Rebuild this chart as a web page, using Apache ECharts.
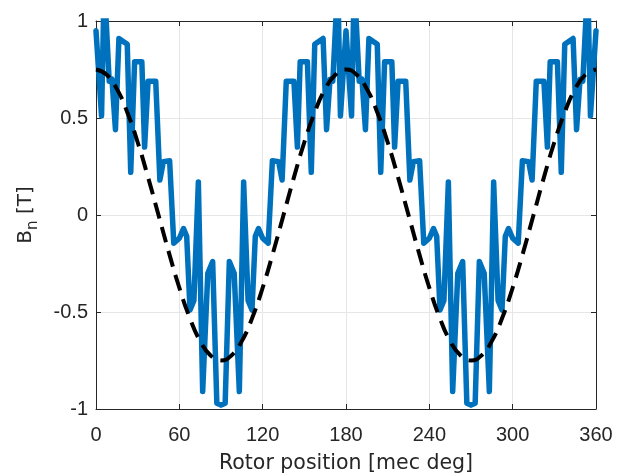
<!DOCTYPE html>
<html>
<head>
<meta charset="utf-8">
<script src="https://cdn.jsdelivr.net/npm/echarts@6/dist/echarts.min.js"></script>
<style>
  html, body { margin: 0; padding: 0; background: #fff; }
  #main { width: 617px; height: 475px; }
</style>
</head>
<body>
<div id="main"></div>
<script>
// rotor position [deg] and normal flux density B_n [T] (blue trace)
var posDeg = [
  0, 4, 5.5, 7, 9.5, 11.5, 14, 16.5, 22.5, 25, 27.8, 33, 35, 37.5, 43, 46, 48.5, 53,
  56, 60, 63, 65.3, 67.7, 70.5, 73.7, 76.8, 80.5, 84, 87, 90,
  93, 96, 99.5, 103.2, 106.3, 109.5, 112.3, 114.7, 117, 120, 124, 127, 131.5, 134,
  137, 142.5, 145, 147, 152.2, 155, 157.5, 163.5, 166, 168.5, 170.5, 173, 174.5, 176, 180,
  184, 185.5, 187, 189.5, 191.5, 194, 196.5, 202.5, 205, 207.8, 213, 215, 217.5, 223,
  226, 228.5, 233, 236, 240, 243, 245.3, 247.7, 250.5, 253.7, 256.8, 260.5, 264, 267, 270,
  273, 276, 279.5, 283.2, 286.3, 289.5, 292.3, 294.7, 297, 300, 304, 307, 311.5, 314,
  317, 322.5, 325, 327, 332.2, 335, 337.5, 343.5, 346, 348.5, 350.5, 353, 354.5, 356, 360
];
var bnT = [
  0.95, 0.51, 1.05, 1.05, 0.69, 0.70, 0.44, 0.91, 0.88, 0.22, 0.79, 0.79, 0.35, 0.69, 0.69, 0.18, 0.275, 0.28,
  -0.145, -0.12, -0.07, -0.11, -0.49, -0.44, 0.17, -0.91, -0.30, -0.24, -0.97, -0.98,
  -0.97, -0.24, -0.30, -0.91, 0.17, -0.44, -0.49, -0.11, -0.07, -0.12, -0.145, 0.28, 0.275, 0.18,
  0.69, 0.69, 0.35, 0.79, 0.79, 0.22, 0.88, 0.91, 0.44, 0.70, 0.69, 1.05, 1.05, 0.51, 0.95,
  0.51, 1.05, 1.05, 0.69, 0.70, 0.44, 0.91, 0.88, 0.22, 0.79, 0.79, 0.35, 0.69, 0.69,
  0.18, 0.275, 0.28, -0.145, -0.12, -0.07, -0.11, -0.49, -0.44, 0.17, -0.91, -0.30, -0.24, -0.97, -0.98,
  -0.97, -0.24, -0.30, -0.91, 0.17, -0.44, -0.49, -0.11, -0.07, -0.12, -0.145, 0.28, 0.275, 0.18,
  0.69, 0.69, 0.35, 0.79, 0.79, 0.22, 0.88, 0.91, 0.44, 0.70, 0.69, 1.05, 1.05, 0.51, 0.95
];

// fundamental (black dashed)
var fundDeg = [
  0, 7.5, 15, 22.5, 30, 37.5, 45, 52.5, 60, 67.5, 75, 82.5, 90,
  97.5, 105, 112.5, 120, 127.5, 135, 142.5, 150, 157.5, 165, 172.5, 180,
  187.5, 195, 202.5, 210, 217.5, 225, 232.5, 240, 247.5, 255, 262.5, 270,
  277.5, 285, 292.5, 300, 307.5, 315, 322.5, 330, 337.5, 345, 352.5, 360
];
var fundT = [
  0.75, 0.724, 0.65, 0.53, 0.375, 0.194, 0, -0.194, -0.375, -0.53, -0.65, -0.724, -0.75,
  -0.724, -0.65, -0.53, -0.375, -0.194, 0, 0.194, 0.375, 0.53, 0.65, 0.724, 0.75,
  0.724, 0.65, 0.53, 0.375, 0.194, 0, -0.194, -0.375, -0.53, -0.65, -0.724, -0.75,
  -0.724, -0.65, -0.53, -0.375, -0.194, 0, 0.194, 0.375, 0.53, 0.65, 0.724, 0.75
];

var xTicks = { min: 0, max: 360, interval: 60 };
var yTicks = { min: -1, max: 1, interval: 0.5 };

function pairs(xs, ys) {
  var out = [];
  for (var i = 0; i < xs.length; i++) out.push([xs[i], ys[i]]);
  return out;
}

var axisColor = '#262626';
var font = "'Liberation Sans', Arial, sans-serif";
var nameFont = "'DejaVu Sans', sans-serif";

function frameAxis(pos, isX, main) {
  var t = isX ? xTicks : yTicks;
  return {
    type: 'value',
    position: pos,
    min: t.min,
    max: t.max,
    interval: t.interval,
    axisLine: { show: true, onZero: false, lineStyle: { color: axisColor, width: 1 } },
    axisTick: { show: true, inside: true, length: 5, lineStyle: { color: axisColor } },
    axisLabel: { show: main, color: axisColor, fontSize: 20, fontFamily: font, margin: isX ? 16 : 8 },
    splitLine: { show: main, lineStyle: { color: '#e6e6e6', width: 1 } }
  };
}

var bx = frameAxis('bottom', true, true);
bx.name = 'Rotor position [mec deg]';
bx.nameLocation = 'middle';
bx.nameGap = 44;
bx.nameTextStyle = { color: axisColor, fontSize: 20.5, fontFamily: nameFont };

var ly = frameAxis('left', false, true);
ly.name = '{b|B}{s|n}{b| [T]}';
ly.nameLocation = 'middle';
ly.nameGap = 55;
ly.nameTextStyle = {
  color: axisColor,
  fontFamily: nameFont,
  rich: {
    b: { fontSize: 20, fontFamily: nameFont, color: axisColor, lineHeight: 30, verticalAlign: 'middle' },
    s: { fontSize: 15, fontFamily: nameFont, color: axisColor, lineHeight: 30, verticalAlign: 'bottom' }
  }
};

var option = {
  animation: false,
  backgroundColor: '#ffffff',
  grid: { left: 96, right: 21, top: 21, bottom: 66, outerBoundsMode: 'none', containLabel: false },
  xAxis: [bx, frameAxis('top', true, false)],
  yAxis: [ly, frameAxis('right', false, false)],
  series: [
    {
      type: 'line',
      data: pairs(posDeg, bnT),
      showSymbol: false,
      clip: true,
      lineStyle: { color: '#0072BD', width: 5.5, join: 'round', cap: 'round' }
    },
    {
      type: 'line',
      data: pairs(fundDeg, fundT),
      showSymbol: false,
      smooth: true,
      clip: true,
      lineStyle: { color: '#000000', width: 4, type: [16, 9] }
    }
  ]
};

var chart = echarts.init(document.getElementById('main'));
chart.setOption(option);
</script>
</body>
</html>
